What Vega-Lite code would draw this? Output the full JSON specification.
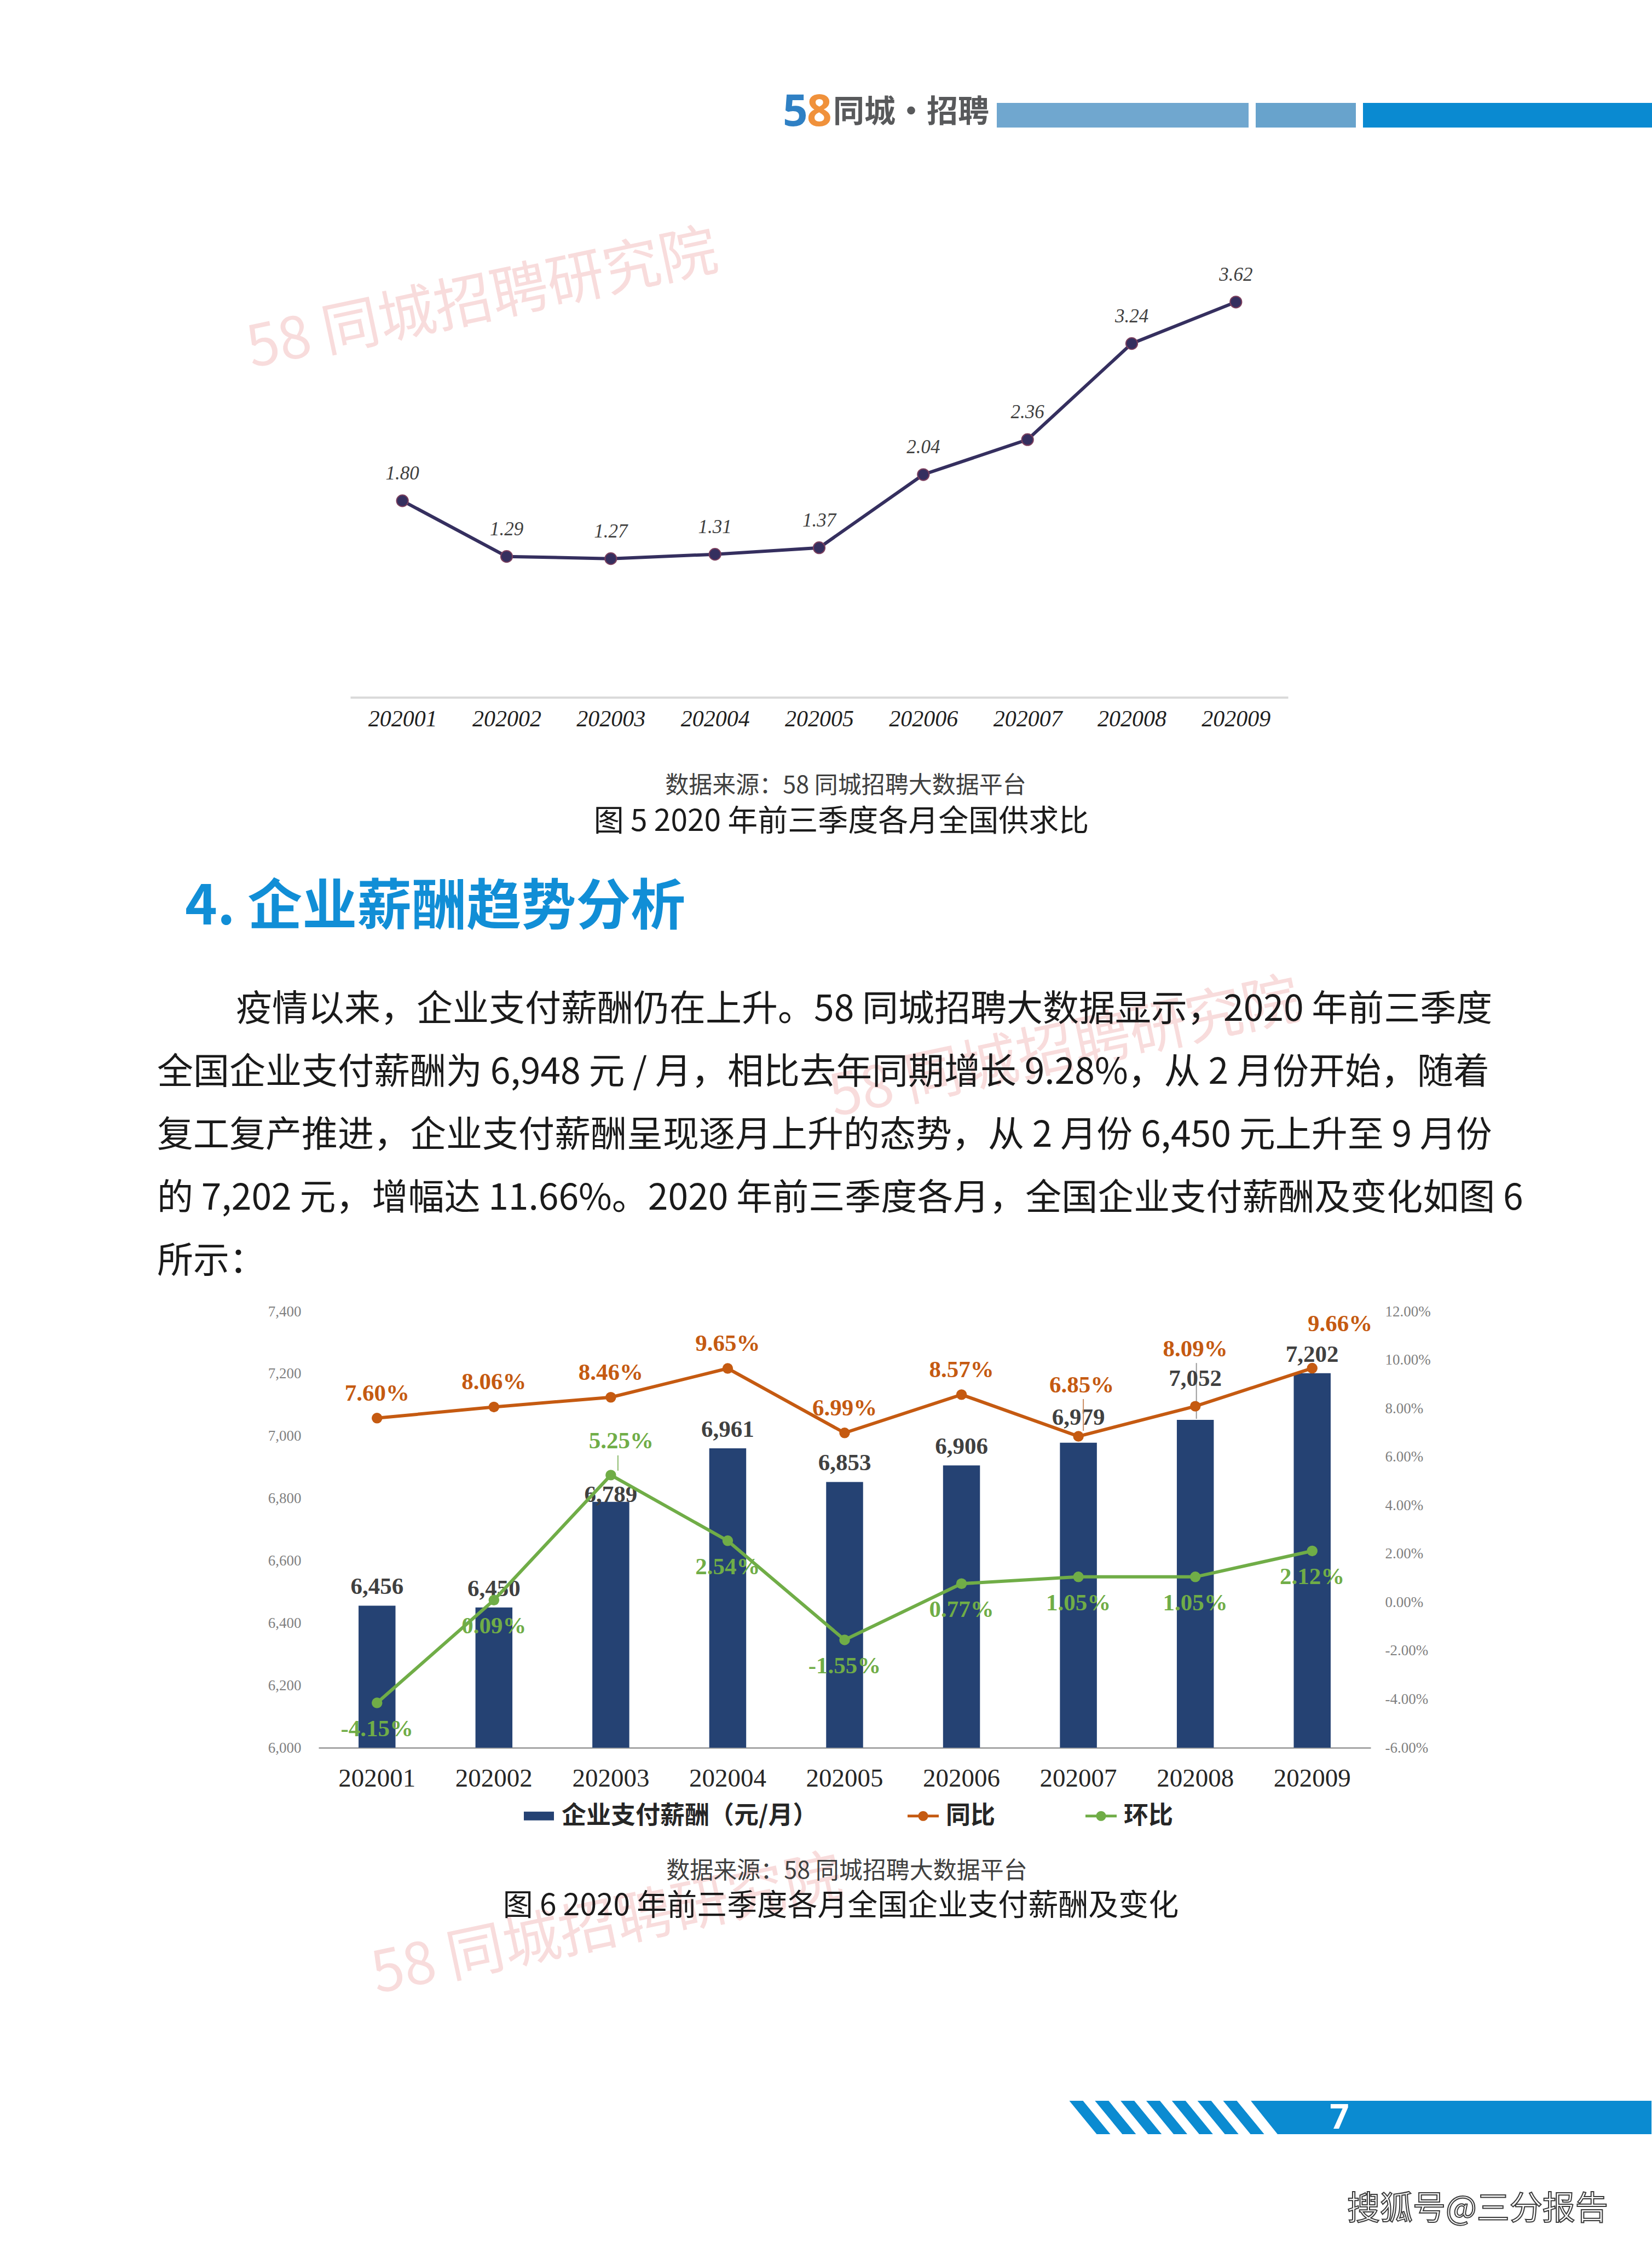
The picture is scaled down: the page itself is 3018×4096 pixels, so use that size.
{
  "$schema": "https://vega.github.io/schema/vega-lite/v6.json",
  "background": "#ffffff",
  "padding": 0,
  "spacing": 0,
  "bounds": "flush",
  "config": {
    "view": {"stroke": null},
    "locale": {"number": {"decimal": ".", "thousands": ",", "grouping": [3], "currency": ["", ""], "minus": "-"}}
  },
  "vconcat": [
    {
      "width": 3018,
      "height": 476,
      "resolve": {"scale": {"x": "independent", "y": "independent"}},
      "layer": [
        {
          "data": {"values": [{"label": "58 同城招聘研究院"}]},
          "mark": {"type": "text", "font": "Noto Sans CJK SC", "fontSize": 105, "color": "#f8dcdc", "align": "left", "baseline": "alphabetic", "angle": 348},
          "encoding": {
            "x": {"datum": 460, "type": "quantitative", "scale": {"domain": [0, 3018], "nice": false, "zero": false}, "axis": null},
            "y": {"datum": 672, "type": "quantitative", "scale": {"domain": [0, 476], "nice": false, "zero": false, "reverse": true}, "axis": null},
            "text": {"field": "label"}
          }
        },
        {
          "data": {"values": [{"part": "header bar 1"}]},
          "mark": {"type": "rect", "color": "#70a7cf"},
          "encoding": {
            "x": {"datum": 1821, "type": "quantitative", "scale": {"domain": [0, 3018], "nice": false, "zero": false}, "axis": null},
            "x2": {"datum": 2281},
            "y": {"datum": 188, "type": "quantitative", "scale": {"domain": [0, 476], "nice": false, "zero": false, "reverse": true}, "axis": null},
            "y2": {"datum": 233}
          }
        },
        {
          "data": {"values": [{"part": "header bar 2"}]},
          "mark": {"type": "rect", "color": "#68a3cc"},
          "encoding": {
            "x": {"datum": 2294, "type": "quantitative", "scale": {"domain": [0, 3018], "nice": false, "zero": false}, "axis": null},
            "x2": {"datum": 2477},
            "y": {"datum": 188, "type": "quantitative", "scale": {"domain": [0, 476], "nice": false, "zero": false, "reverse": true}, "axis": null},
            "y2": {"datum": 233}
          }
        },
        {
          "data": {"values": [{"part": "header bar 3"}]},
          "mark": {"type": "rect", "color": "#0a8ad1"},
          "encoding": {
            "x": {"datum": 2490, "type": "quantitative", "scale": {"domain": [0, 3018], "nice": false, "zero": false}, "axis": null},
            "x2": {"datum": 3018},
            "y": {"datum": 188, "type": "quantitative", "scale": {"domain": [0, 476], "nice": false, "zero": false, "reverse": true}, "axis": null},
            "y2": {"datum": 233}
          }
        },
        {
          "data": {"values": [{"label": "5"}]},
          "mark": {"type": "text", "font": "Noto Sans", "fontWeight": "bold", "fontSize": 80, "color": "#2f80c4", "align": "left", "baseline": "middle"},
          "encoding": {
            "x": {"datum": 1430, "type": "quantitative", "scale": {"domain": [0, 3018], "nice": false, "zero": false}, "axis": null},
            "y": {"datum": 206, "type": "quantitative", "scale": {"domain": [0, 476], "nice": false, "zero": false, "reverse": true}, "axis": null},
            "text": {"field": "label"}
          }
        },
        {
          "data": {"values": [{"label": "8"}]},
          "mark": {"type": "text", "font": "Noto Sans", "fontWeight": "bold", "fontSize": 80, "color": "#f0913b", "align": "left", "baseline": "middle"},
          "encoding": {
            "x": {"datum": 1474, "type": "quantitative", "scale": {"domain": [0, 3018], "nice": false, "zero": false}, "axis": null},
            "y": {"datum": 206, "type": "quantitative", "scale": {"domain": [0, 476], "nice": false, "zero": false, "reverse": true}, "axis": null},
            "text": {"field": "label"}
          }
        },
        {
          "data": {"values": [{"label": "同城·招聘"}]},
          "mark": {"type": "text", "font": "Noto Sans CJK SC", "fontWeight": "bold", "fontSize": 57, "color": "#58595b", "align": "left", "baseline": "middle"},
          "encoding": {
            "x": {"datum": 1522, "type": "quantitative", "scale": {"domain": [0, 3018], "nice": false, "zero": false}, "axis": null},
            "y": {"datum": 206, "type": "quantitative", "scale": {"domain": [0, 476], "nice": false, "zero": false, "reverse": true}, "axis": null},
            "text": {"field": "label"}
          }
        }
      ]
    },
    {
      "width": 3018,
      "height": 798,
      "data": {"values": [
        {"month": "202001", "ratio": 1.80},
        {"month": "202002", "ratio": 1.29},
        {"month": "202003", "ratio": 1.27},
        {"month": "202004", "ratio": 1.31},
        {"month": "202005", "ratio": 1.37},
        {"month": "202006", "ratio": 2.04},
        {"month": "202007", "ratio": 2.36},
        {"month": "202008", "ratio": 3.24},
        {"month": "202009", "ratio": 3.62}
      ]},
      "encoding": {
        "x": {"field": "month", "type": "nominal", "scale": {"type": "point", "range": [640, 2353], "padding": 0.5},
              "axis": {"title": null, "labelAngle": 0, "ticks": false, "grid": false, "domainColor": "#d9d9d9", "domainWidth": 4, "labelFont": "Liberation Serif", "labelFontStyle": "italic", "labelFontSize": 42, "labelColor": "#1f1f1f", "labelPadding": 19, "labelLimit": 0}},
        "y": {"field": "ratio", "type": "quantitative", "scale": {"domain": [0, 4], "nice": false}, "axis": null}
      },
      "layer": [
        {"mark": {"type": "line", "color": "#352f5f", "strokeWidth": 6}},
        {"mark": {"type": "point", "filled": true, "size": 450, "color": "#352f5f", "opacity": 1, "stroke": "#7b3f5e", "strokeWidth": 2}},
        {"mark": {"type": "text", "dy": -50, "font": "Liberation Serif", "fontStyle": "italic", "fontSize": 35, "color": "#404040", "baseline": "middle"},
         "encoding": {"text": {"field": "ratio", "type": "quantitative", "format": ".2f"}}}
      ]
    },
    {
      "width": 3018,
      "height": 480,
      "resolve": {"scale": {"x": "independent", "y": "independent"}},
      "layer": [
        {
          "data": {"values": [{"label": "58 同城招聘研究院"}]},
          "mark": {"type": "text", "font": "Noto Sans CJK SC", "fontSize": 105, "color": "#f8dcdc", "align": "left", "baseline": "alphabetic", "angle": 348},
          "encoding": {
            "x": {"datum": 1524, "type": "quantitative", "scale": {"domain": [0, 3018], "nice": false, "zero": false}, "axis": null},
            "y": {"datum": 2040, "type": "quantitative", "scale": {"domain": [1274, 1754], "nice": false, "zero": false, "reverse": true}, "axis": null},
            "text": {"field": "label"}
          }
        },
        {
          "data": {"values": [{"label": "数据来源：58 同城招聘大数据平台"}]},
          "mark": {"type": "text", "font": "Noto Sans CJK SC", "fontSize": 43, "color": "#404040", "align": "center", "baseline": "middle"},
          "encoding": {
            "x": {"datum": 1545, "type": "quantitative", "scale": {"domain": [0, 3018], "nice": false, "zero": false}, "axis": null},
            "y": {"datum": 1436, "type": "quantitative", "scale": {"domain": [1274, 1754], "nice": false, "zero": false, "reverse": true}, "axis": null},
            "text": {"field": "label"}
          }
        },
        {
          "data": {"values": [{"label": "图 5  2020 年前三季度各月全国供求比"}]},
          "mark": {"type": "text", "font": "Noto Sans CJK SC", "fontSize": 55, "color": "#1a1a1a", "align": "center", "baseline": "middle"},
          "encoding": {
            "x": {"datum": 1537, "type": "quantitative", "scale": {"domain": [0, 3018], "nice": false, "zero": false}, "axis": null},
            "y": {"datum": 1501, "type": "quantitative", "scale": {"domain": [1274, 1754], "nice": false, "zero": false, "reverse": true}, "axis": null},
            "text": {"field": "label"}
          }
        },
        {
          "data": {"values": [{"label": "4. 企业薪酬趋势分析"}]},
          "mark": {"type": "text", "font": "Noto Sans CJK SC", "fontWeight": "bold", "fontSize": 100, "color": "#118ed6", "align": "left", "baseline": "middle"},
          "encoding": {
            "x": {"datum": 338, "type": "quantitative", "scale": {"domain": [0, 3018], "nice": false, "zero": false}, "axis": null},
            "y": {"datum": 1659, "type": "quantitative", "scale": {"domain": [1274, 1754], "nice": false, "zero": false, "reverse": true}, "axis": null},
            "text": {"field": "label"}
          }
        }
      ]
    },
    {
      "width": 3018,
      "height": 642,
      "data": {"values": [
        {"line": 1, "text": "疫情以来，企业支付薪酬仍在上升。58 同城招聘大数据显示，2020 年前三季度"},
        {"line": 2, "text": "全国企业支付薪酬为 6,948 元 / 月，相比去年同期增长 9.28%，从 2 月份开始，随着"},
        {"line": 3, "text": "复工复产推进，企业支付薪酬呈现逐月上升的态势，从 2 月份 6,450 元上升至 9 月份"},
        {"line": 4, "text": "的 7,202 元，增幅达 11.66%。2020 年前三季度各月，全国企业支付薪酬及变化如图 6"},
        {"line": 5, "text": "所示："}
      ]},
      "encoding": {
        "x": {"datum": 287, "type": "quantitative", "scale": {"domain": [0, 3018], "nice": false, "zero": false}, "axis": null},
        "y": {"field": "line", "type": "ordinal", "scale": {"type": "point", "padding": 0.791}, "axis": null},
        "text": {"field": "text"}
      },
      "layer": [
        {
          "transform": [{"filter": "datum.line === 1"}],
          "mark": {"type": "text", "font": "Noto Sans CJK SC", "fontSize": 66, "color": "#1a1a1a", "align": "left", "baseline": "middle", "dx": 144}
        },
        {
          "transform": [{"filter": "datum.line !== 1"}],
          "mark": {"type": "text", "font": "Noto Sans CJK SC", "fontSize": 66, "color": "#1a1a1a", "align": "left", "baseline": "middle"}
        }
      ]
    },
    {
      "width": 3018,
      "height": 797,
      "data": {"values": [
        {"month": "202001", "salary": 6456, "yoy": 0.0760, "mom": -0.0415},
        {"month": "202002", "salary": 6450, "yoy": 0.0806, "mom": 0.0009},
        {"month": "202003", "salary": 6789, "yoy": 0.0846, "mom": 0.0525},
        {"month": "202004", "salary": 6961, "yoy": 0.0965, "mom": 0.0254},
        {"month": "202005", "salary": 6853, "yoy": 0.0699, "mom": -0.0155},
        {"month": "202006", "salary": 6906, "yoy": 0.0857, "mom": 0.0077},
        {"month": "202007", "salary": 6979, "yoy": 0.0685, "mom": 0.0105},
        {"month": "202008", "salary": 7052, "yoy": 0.0809, "mom": 0.0105},
        {"month": "202009", "salary": 7202, "yoy": 0.0966, "mom": 0.0212}
      ]},
      "encoding": {
        "x": {"field": "month", "type": "nominal", "scale": {"type": "band", "range": [582, 2504], "paddingInner": 0, "paddingOuter": 0},
              "axis": {"title": null, "labelAngle": 0, "ticks": false, "grid": false, "domainColor": "#a6a6a6", "domainWidth": 3, "labelFont": "Liberation Serif", "labelFontSize": 47, "labelColor": "#262626", "labelPadding": 33, "labelLimit": 0}}
      },
      "layer": [
        {
          "encoding": {
            "y": {"field": "salary", "type": "quantitative", "scale": {"domain": [6000, 7400], "nice": false, "zero": false},
                  "axis": {"orient": "left", "offset": -560, "title": null, "ticks": false, "domain": false, "grid": false, "values": [6000, 6200, 6400, 6600, 6800, 7000, 7200, 7400], "format": ",d", "labelFont": "Liberation Serif", "labelFontSize": 27, "labelColor": "#7f7f7f", "labelPadding": 10}}
          },
          "layer": [
            {
              "mark": {"type": "bar", "width": {"band": 0.316}},
              "encoding": {
                "y2": {"datum": 6000},
                "fill": {"datum": "企业支付薪酬（元/月）", "type": "nominal", "scale": {"domain": ["企业支付薪酬（元/月）", "同比", "环比"], "range": ["#254273", "#c55a11", "#70ad47"]},
                         "legend": {"orient": "none", "legendX": 956, "legendY": 3289, "title": null, "direction": "horizontal", "symbolType": "circle", "symbolSize": 3249, "symbolStrokeWidth": 0, "symbolOpacity": 1, "labelFont": "Noto Sans CJK SC", "labelFontWeight": "bold", "labelFontSize": 45, "labelColor": "#262626", "labelOffset": 13, "labelLimit": 0, "columnPadding": 164, "padding": 0,
                                    "encode": {"symbols": {"update": {"shape": {"signal": "datum.value === '企业支付薪酬（元/月）' ? 'M-0.965,-0.28H0.965V0.28H-0.965Z' : 'M-1,-0.09H1V0.09H-1ZM-0.32,0A0.32,0.32 0 1,1 0.32,0A0.32,0.32 0 1,1 -0.32,0Z'"}}}}}}
              }
            },
            {
              "transform": [{"filter": "datum.month === '202008'"}],
              "mark": {"type": "rule", "color": "#9a9a9a", "strokeWidth": 2, "xOffset": 2, "yOffset": -104, "y2Offset": -2},
              "encoding": {"y2": {"field": "salary"}}
            },
            {
              "transform": [{"filter": "indexof(['202003','202007','202008'], datum.month) < 0"}],
              "mark": {"type": "text", "font": "Liberation Serif", "fontWeight": "bold", "fontSize": 43, "color": "#404040", "baseline": "middle", "dy": -34},
              "encoding": {"text": {"field": "salary", "type": "quantitative", "format": ",d"}}
            },
            {
              "transform": [{"filter": "datum.month === '202003'"}],
              "mark": {"type": "text", "font": "Liberation Serif", "fontWeight": "bold", "fontSize": 43, "color": "#404040", "baseline": "middle", "dy": -13},
              "encoding": {"text": {"field": "salary", "type": "quantitative", "format": ",d"}}
            },
            {
              "transform": [{"filter": "datum.month === '202007'"}],
              "mark": {"type": "text", "font": "Liberation Serif", "fontWeight": "bold", "fontSize": 43, "color": "#404040", "baseline": "middle", "dy": -46},
              "encoding": {"text": {"field": "salary", "type": "quantitative", "format": ",d"}}
            },
            {
              "transform": [{"filter": "datum.month === '202008'"}],
              "mark": {"type": "text", "font": "Liberation Serif", "fontWeight": "bold", "fontSize": 43, "color": "#404040", "baseline": "middle", "dy": -75},
              "encoding": {"text": {"field": "salary", "type": "quantitative", "format": ",d"}}
            }
          ]
        },
        {
          "layer": [
            {
              "mark": {"type": "line", "strokeWidth": 6},
              "encoding": {
                "y": {"field": "yoy", "type": "quantitative", "scale": {"domain": [-0.06, 0.12], "nice": false, "zero": false},
                      "axis": {"orient": "right", "offset": -498, "title": null, "ticks": false, "domain": false, "grid": false, "values": [-0.06, -0.04, -0.02, 0, 0.02, 0.04, 0.06, 0.08, 0.1, 0.12], "format": ".2%", "labelFont": "Liberation Serif", "labelFontSize": 27, "labelColor": "#7f7f7f", "labelPadding": 10}},
                "stroke": {"datum": "同比", "type": "nominal", "scale": {"domain": ["同比", "环比"], "range": ["#c55a11", "#70ad47"]}, "legend": null}
              }
            },
            {
              "mark": {"type": "line", "strokeWidth": 6},
              "encoding": {
                "y": {"field": "mom", "type": "quantitative", "scale": {"domain": [-0.06, 0.12], "nice": false, "zero": false},
                      "axis": {"orient": "right", "offset": -498, "title": null, "ticks": false, "domain": false, "grid": false, "values": [-0.06, -0.04, -0.02, 0, 0.02, 0.04, 0.06, 0.08, 0.1, 0.12], "format": ".2%", "labelFont": "Liberation Serif", "labelFontSize": 27, "labelColor": "#7f7f7f", "labelPadding": 10}},
                "stroke": {"datum": "环比", "type": "nominal", "scale": {"domain": ["同比", "环比"], "range": ["#c55a11", "#70ad47"]}, "legend": null}
              }
            },
            {
              "transform": [{"filter": "datum.month === '202007'"}],
              "mark": {"type": "rule", "color": "#c98b62", "strokeWidth": 2, "xOffset": 9, "yOffset": -10, "y2Offset": -68},
              "encoding": {
                "y": {"field": "yoy", "type": "quantitative", "scale": {"domain": [-0.06, 0.12], "nice": false, "zero": false},
                      "axis": {"orient": "right", "offset": -498, "title": null, "ticks": false, "domain": false, "grid": false, "values": [-0.06, -0.04, -0.02, 0, 0.02, 0.04, 0.06, 0.08, 0.1, 0.12], "format": ".2%", "labelFont": "Liberation Serif", "labelFontSize": 27, "labelColor": "#7f7f7f", "labelPadding": 10}},
                "y2": {"field": "yoy"}
              }
            },
            {
              "transform": [{"filter": "datum.month === '202003'"}],
              "mark": {"type": "rule", "color": "#8dbb6e", "strokeWidth": 2, "xOffset": 13, "yOffset": -8, "y2Offset": -36},
              "encoding": {
                "y": {"field": "mom", "type": "quantitative", "scale": {"domain": [-0.06, 0.12], "nice": false, "zero": false},
                      "axis": {"orient": "right", "offset": -498, "title": null, "ticks": false, "domain": false, "grid": false, "values": [-0.06, -0.04, -0.02, 0, 0.02, 0.04, 0.06, 0.08, 0.1, 0.12], "format": ".2%", "labelFont": "Liberation Serif", "labelFontSize": 27, "labelColor": "#7f7f7f", "labelPadding": 10}},
                "y2": {"field": "mom"}
              }
            },
            {
              "mark": {"type": "point", "filled": true, "size": 380, "opacity": 1},
              "encoding": {
                "y": {"field": "yoy", "type": "quantitative", "scale": {"domain": [-0.06, 0.12], "nice": false, "zero": false},
                      "axis": {"orient": "right", "offset": -498, "title": null, "ticks": false, "domain": false, "grid": false, "values": [-0.06, -0.04, -0.02, 0, 0.02, 0.04, 0.06, 0.08, 0.1, 0.12], "format": ".2%", "labelFont": "Liberation Serif", "labelFontSize": 27, "labelColor": "#7f7f7f", "labelPadding": 10}},
                "fill": {"datum": "同比", "type": "nominal", "scale": {"domain": ["企业支付薪酬（元/月）", "同比", "环比"], "range": ["#254273", "#c55a11", "#70ad47"]},
                         "legend": {"orient": "none", "legendX": 956, "legendY": 3289, "title": null, "direction": "horizontal", "symbolType": "circle", "symbolSize": 3249, "symbolStrokeWidth": 0, "symbolOpacity": 1, "labelFont": "Noto Sans CJK SC", "labelFontWeight": "bold", "labelFontSize": 45, "labelColor": "#262626", "labelOffset": 13, "labelLimit": 0, "columnPadding": 164, "padding": 0,
                                    "encode": {"symbols": {"update": {"shape": {"signal": "datum.value === '企业支付薪酬（元/月）' ? 'M-0.965,-0.28H0.965V0.28H-0.965Z' : 'M-1,-0.09H1V0.09H-1ZM-0.32,0A0.32,0.32 0 1,1 0.32,0A0.32,0.32 0 1,1 -0.32,0Z'"}}}}}}
              }
            },
            {
              "mark": {"type": "point", "filled": true, "size": 380, "opacity": 1},
              "encoding": {
                "y": {"field": "mom", "type": "quantitative", "scale": {"domain": [-0.06, 0.12], "nice": false, "zero": false},
                      "axis": {"orient": "right", "offset": -498, "title": null, "ticks": false, "domain": false, "grid": false, "values": [-0.06, -0.04, -0.02, 0, 0.02, 0.04, 0.06, 0.08, 0.1, 0.12], "format": ".2%", "labelFont": "Liberation Serif", "labelFontSize": 27, "labelColor": "#7f7f7f", "labelPadding": 10}},
                "fill": {"datum": "环比", "type": "nominal", "scale": {"domain": ["企业支付薪酬（元/月）", "同比", "环比"], "range": ["#254273", "#c55a11", "#70ad47"]},
                         "legend": {"orient": "none", "legendX": 956, "legendY": 3289, "title": null, "direction": "horizontal", "symbolType": "circle", "symbolSize": 3249, "symbolStrokeWidth": 0, "symbolOpacity": 1, "labelFont": "Noto Sans CJK SC", "labelFontWeight": "bold", "labelFontSize": 45, "labelColor": "#262626", "labelOffset": 13, "labelLimit": 0, "columnPadding": 164, "padding": 0,
                                    "encode": {"symbols": {"update": {"shape": {"signal": "datum.value === '企业支付薪酬（元/月）' ? 'M-0.965,-0.28H0.965V0.28H-0.965Z' : 'M-1,-0.09H1V0.09H-1ZM-0.32,0A0.32,0.32 0 1,1 0.32,0A0.32,0.32 0 1,1 -0.32,0Z'"}}}}}}
              }
            },
            {
              "transform": [{"filter": "indexof(['202007','202008','202009'], datum.month) < 0"}],
              "mark": {"type": "text", "font": "Liberation Serif", "fontWeight": "bold", "fontSize": 43, "color": "#c55a11", "baseline": "middle", "dy": -45},
              "encoding": {
                "y": {"field": "yoy", "type": "quantitative", "scale": {"domain": [-0.06, 0.12], "nice": false, "zero": false},
                      "axis": {"orient": "right", "offset": -498, "title": null, "ticks": false, "domain": false, "grid": false, "values": [-0.06, -0.04, -0.02, 0, 0.02, 0.04, 0.06, 0.08, 0.1, 0.12], "format": ".2%", "labelFont": "Liberation Serif", "labelFontSize": 27, "labelColor": "#7f7f7f", "labelPadding": 10}},
                "text": {"field": "yoy", "type": "quantitative", "format": ".2%"}
              }
            },
            {
              "transform": [{"filter": "datum.month === '202007'"}],
              "mark": {"type": "text", "font": "Liberation Serif", "fontWeight": "bold", "fontSize": 43, "color": "#c55a11", "baseline": "middle", "dy": -93, "dx": 6},
              "encoding": {
                "y": {"field": "yoy", "type": "quantitative", "scale": {"domain": [-0.06, 0.12], "nice": false, "zero": false},
                      "axis": {"orient": "right", "offset": -498, "title": null, "ticks": false, "domain": false, "grid": false, "values": [-0.06, -0.04, -0.02, 0, 0.02, 0.04, 0.06, 0.08, 0.1, 0.12], "format": ".2%", "labelFont": "Liberation Serif", "labelFontSize": 27, "labelColor": "#7f7f7f", "labelPadding": 10}},
                "text": {"field": "yoy", "type": "quantitative", "format": ".2%"}
              }
            },
            {
              "transform": [{"filter": "datum.month === '202008'"}],
              "mark": {"type": "text", "font": "Liberation Serif", "fontWeight": "bold", "fontSize": 43, "color": "#c55a11", "baseline": "middle", "dy": -104},
              "encoding": {
                "y": {"field": "yoy", "type": "quantitative", "scale": {"domain": [-0.06, 0.12], "nice": false, "zero": false},
                      "axis": {"orient": "right", "offset": -498, "title": null, "ticks": false, "domain": false, "grid": false, "values": [-0.06, -0.04, -0.02, 0, 0.02, 0.04, 0.06, 0.08, 0.1, 0.12], "format": ".2%", "labelFont": "Liberation Serif", "labelFontSize": 27, "labelColor": "#7f7f7f", "labelPadding": 10}},
                "text": {"field": "yoy", "type": "quantitative", "format": ".2%"}
              }
            },
            {
              "transform": [{"filter": "datum.month === '202009'"}],
              "mark": {"type": "text", "font": "Liberation Serif", "fontWeight": "bold", "fontSize": 43, "color": "#c55a11", "baseline": "middle", "dy": -81, "dx": 51},
              "encoding": {
                "y": {"field": "yoy", "type": "quantitative", "scale": {"domain": [-0.06, 0.12], "nice": false, "zero": false},
                      "axis": {"orient": "right", "offset": -498, "title": null, "ticks": false, "domain": false, "grid": false, "values": [-0.06, -0.04, -0.02, 0, 0.02, 0.04, 0.06, 0.08, 0.1, 0.12], "format": ".2%", "labelFont": "Liberation Serif", "labelFontSize": 27, "labelColor": "#7f7f7f", "labelPadding": 10}},
                "text": {"field": "yoy", "type": "quantitative", "format": ".2%"}
              }
            },
            {
              "transform": [{"filter": "datum.month !== '202003'"}],
              "mark": {"type": "text", "font": "Liberation Serif", "fontWeight": "bold", "fontSize": 43, "color": "#70ad47", "baseline": "middle", "dy": 48},
              "encoding": {
                "y": {"field": "mom", "type": "quantitative", "scale": {"domain": [-0.06, 0.12], "nice": false, "zero": false},
                      "axis": {"orient": "right", "offset": -498, "title": null, "ticks": false, "domain": false, "grid": false, "values": [-0.06, -0.04, -0.02, 0, 0.02, 0.04, 0.06, 0.08, 0.1, 0.12], "format": ".2%", "labelFont": "Liberation Serif", "labelFontSize": 27, "labelColor": "#7f7f7f", "labelPadding": 10}},
                "text": {"field": "mom", "type": "quantitative", "format": ".2%"}
              }
            },
            {
              "transform": [{"filter": "datum.month === '202003'"}],
              "mark": {"type": "text", "font": "Liberation Serif", "fontWeight": "bold", "fontSize": 43, "color": "#70ad47", "baseline": "middle", "dy": -62, "dx": 19},
              "encoding": {
                "y": {"field": "mom", "type": "quantitative", "scale": {"domain": [-0.06, 0.12], "nice": false, "zero": false},
                      "axis": {"orient": "right", "offset": -498, "title": null, "ticks": false, "domain": false, "grid": false, "values": [-0.06, -0.04, -0.02, 0, 0.02, 0.04, 0.06, 0.08, 0.1, 0.12], "format": ".2%", "labelFont": "Liberation Serif", "labelFontSize": 27, "labelColor": "#7f7f7f", "labelPadding": 10}},
                "text": {"field": "mom", "type": "quantitative", "format": ".2%"}
              }
            }
          ]
        }
      ],
      "resolve": {"scale": {"y": "independent"}}
    },
    {
      "width": 3018,
      "height": 903,
      "resolve": {"scale": {"x": "independent", "y": "independent"}},
      "layer": [
        {
          "data": {"values": [{"label": "58 同城招聘研究院"}]},
          "mark": {"type": "text", "font": "Noto Sans CJK SC", "fontSize": 105, "color": "#f8dcdc", "align": "left", "baseline": "alphabetic", "angle": 348},
          "encoding": {
            "x": {"datum": 688, "type": "quantitative", "scale": {"domain": [0, 3018], "nice": false, "zero": false}, "axis": null},
            "y": {"datum": 3642, "type": "quantitative", "scale": {"domain": [3193, 4096], "nice": false, "zero": false, "reverse": true}, "axis": null},
            "text": {"field": "label"}
          }
        },
        {
          "data": {"values": [{"label": "数据来源：58 同城招聘大数据平台"}]},
          "mark": {"type": "text", "font": "Noto Sans CJK SC", "fontSize": 43, "color": "#404040", "align": "center", "baseline": "middle"},
          "encoding": {
            "x": {"datum": 1547, "type": "quantitative", "scale": {"domain": [0, 3018], "nice": false, "zero": false}, "axis": null},
            "y": {"datum": 3419, "type": "quantitative", "scale": {"domain": [3193, 4096], "nice": false, "zero": false, "reverse": true}, "axis": null},
            "text": {"field": "label"}
          }
        },
        {
          "data": {"values": [{"label": "图 6  2020 年前三季度各月全国企业支付薪酬及变化"}]},
          "mark": {"type": "text", "font": "Noto Sans CJK SC", "fontSize": 55, "color": "#1a1a1a", "align": "center", "baseline": "middle"},
          "encoding": {
            "x": {"datum": 1536, "type": "quantitative", "scale": {"domain": [0, 3018], "nice": false, "zero": false}, "axis": null},
            "y": {"datum": 3482, "type": "quantitative", "scale": {"domain": [3193, 4096], "nice": false, "zero": false, "reverse": true}, "axis": null},
            "text": {"field": "label"}
          }
        },
        {
          "data": {"values": [{"s": 1}, {"s": 2}, {"s": 3}, {"s": 4}, {"s": 5}, {"s": 6}, {"s": 7}]},
          "mark": {"type": "point", "filled": true, "opacity": 1, "size": 3721, "strokeWidth": 0, "color": "#0b8bd1", "shape": "M-1.23,-1L-0.41,-1L1.23,1L0.41,1Z"},
          "encoding": {
            "x": {"field": "s", "type": "quantitative", "scale": {"domain": [1, 7], "range": [1991, 2272], "nice": false, "zero": false}, "axis": null},
            "y": {"datum": 3868.5, "type": "quantitative", "scale": {"domain": [3193, 4096], "nice": false, "zero": false, "reverse": true}, "axis": null}
          }
        },
        {
          "data": {"values": [{"part": "footer bar"}]},
          "mark": {"type": "point", "filled": true, "opacity": 1, "size": 3721, "strokeWidth": 0, "color": "#0b8bd1", "shape": "M-0.8,-1L23.2,-1L23.2,1L0.8,1Z"},
          "encoding": {
            "x": {"datum": 2309.5, "type": "quantitative", "scale": {"domain": [0, 3018], "nice": false, "zero": false}, "axis": null},
            "y": {"datum": 3868.5, "type": "quantitative", "scale": {"domain": [3193, 4096], "nice": false, "zero": false, "reverse": true}, "axis": null}
          }
        },
        {
          "data": {"values": [{"label": "7"}]},
          "mark": {"type": "text", "font": "Noto Sans", "fontWeight": "bold", "fontSize": 62, "color": "#ffffff", "align": "center", "baseline": "middle"},
          "encoding": {
            "x": {"datum": 2447, "type": "quantitative", "scale": {"domain": [0, 3018], "nice": false, "zero": false}, "axis": null},
            "y": {"datum": 3870, "type": "quantitative", "scale": {"domain": [3193, 4096], "nice": false, "zero": false, "reverse": true}, "axis": null},
            "text": {"field": "label"}
          }
        },
        {
          "data": {"values": [{"label": "搜狐号@三分报告"}]},
          "mark": {"type": "text", "font": "Noto Sans CJK SC", "fontSize": 60, "fill": "#ffffff", "stroke": "#3a3a3a", "strokeWidth": 2, "align": "left", "baseline": "middle"},
          "encoding": {
            "x": {"datum": 2461, "type": "quantitative", "scale": {"domain": [0, 3018], "nice": false, "zero": false}, "axis": null},
            "y": {"datum": 4037, "type": "quantitative", "scale": {"domain": [3193, 4096], "nice": false, "zero": false, "reverse": true}, "axis": null},
            "text": {"field": "label"}
          }
        }
      ]
    }
  ]
}
